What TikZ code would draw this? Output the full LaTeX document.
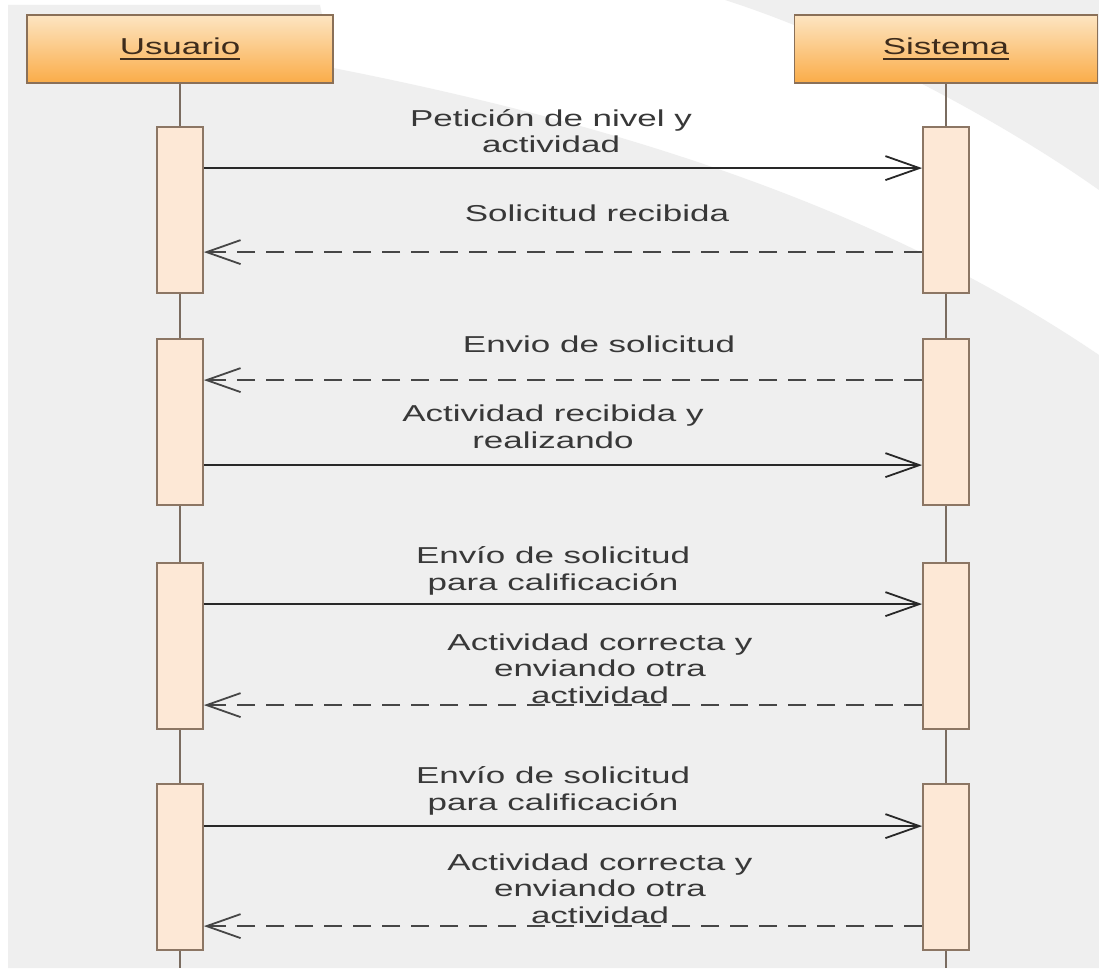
\documentclass[tikz,border=0pt]{standalone}
\usepackage{fontspec}
\setmainfont[FakeStretch=1.52]{Liberation Sans}
\usetikzlibrary{positioning, arrows.meta}
\definecolor{bggrey}{RGB}{239,239,239}
\definecolor{hdtop}{RGB}{253,229,194}
\definecolor{hdbot}{RGB}{250,172,72}
\definecolor{hddraw}{RGB}{138,112,88}
\definecolor{hdtext}{RGB}{62,44,28}
\definecolor{actfill}{RGB}{253,232,214}
\definecolor{actdraw}{RGB}{140,118,100}
\definecolor{lifeln}{RGB}{122,108,96}
\definecolor{msgline}{RGB}{40,40,40}
\definecolor{replyline}{RGB}{70,70,70}
\definecolor{msgtext}{RGB}{56,56,56}
\newcommand{\actorname}[1]{\setbox0\hbox{#1}\rlap{\usebox0}\rule[-5pt]{\wd0}{1.8pt}}
\tikzstyle{actor}=[rectangle, draw=hddraw, line width=1.5pt, top color=hdtop, bottom color=hdbot, minimum width=306pt, minimum height=68pt, inner sep=0pt, text=hdtext, font=\fontsize{23}{27}\selectfont]
\tikzstyle{act}=[rectangle, draw=actdraw, fill=actfill, line width=1.8pt, minimum width=46pt, minimum height=166pt, inner sep=0pt]
\tikzstyle{life}=[draw=lifeln, line width=2pt]
\tikzstyle{call}=[draw=msgline, line width=1.8pt, -{Straight Barb[length=34pt, width=24pt]}]
\tikzstyle{reply}=[call, draw=replyline, dash pattern=on 18pt off 11pt]
\tikzstyle{msg}=[text=msgtext, font=\fontsize{23}{26.5}\selectfont, align=center, inner sep=0pt, anchor=base]
\begin{document}
\begin{tikzpicture}[x=1pt, y=-1pt]
    %background swoosh
    \fill[white] (0,0) rectangle (1099,968);
    \fill[bggrey] (8,5) -- (320,5) -- (333,68) .. controls (650,130) and (900,220) .. (1099,355) -- (1099,968) -- (8,968) -- cycle;
    \fill[bggrey] (725,0) .. controls (850,40) and (1000,120) .. (1099,190) -- (1099,0) -- cycle;
    \useasboundingbox (0,0) rectangle (1099,968);
    %lifelines and activation bars
    \node[actor] (usr) at (180,49) {\actorname{Usuario}};
    \node[actor, minimum width=303pt] (sys) at (946,49) {\actorname{Sistema}};
    \coordinate (usr-end) at (180,968);
    \coordinate (sys-end) at (946,968);
    \draw[life] (usr) -- (usr-end);
    \draw[life] (sys) -- (sys-end);
    \foreach \y [count=\n] in {210,422,646,867}{
        \node[act] (u\n) at (180,\y) {};
        \node[act] (s\n) at (946,\y) {};
    }
    %messages, offsets measured from the top of each bar
    \foreach \n/\dy in {1/42,2/127,3/42,4/43}{
        \draw[call] (u\n.north east) ++(0,\dy) coordinate (go\n) -- (go\n -| s\n.west);
    }
    \foreach \n/\dy in {1/126,2/42,3/143,4/143}{
        \draw[reply] (s\n.north west) ++(0,\dy) coordinate (back\n) -- (back\n -| u\n.east);
    }
    \node[msg] (t1) at (551,153) {Petición de nivel y\\actividad};
    \node[msg] (t2) at (597,222) {Solicitud recibida};
    \node[msg] (t3) at (599,352) {Envio de solicitud};
    \node[msg] (t4) at (553,448) {Actividad recibida y\\realizando};
    \node[msg] (t5) at (553,590) {Envío de solicitud\\para calificación};
    \node[msg] (t6) at (600,703) {Actividad correcta y\\enviando otra\\actividad};
    \node[msg] (t7) at (553,810) {Envío de solicitud\\para calificación};
    \node[msg] (t8) at (600,923) {Actividad correcta y\\enviando otra\\actividad};
\end{tikzpicture}
\end{document}
